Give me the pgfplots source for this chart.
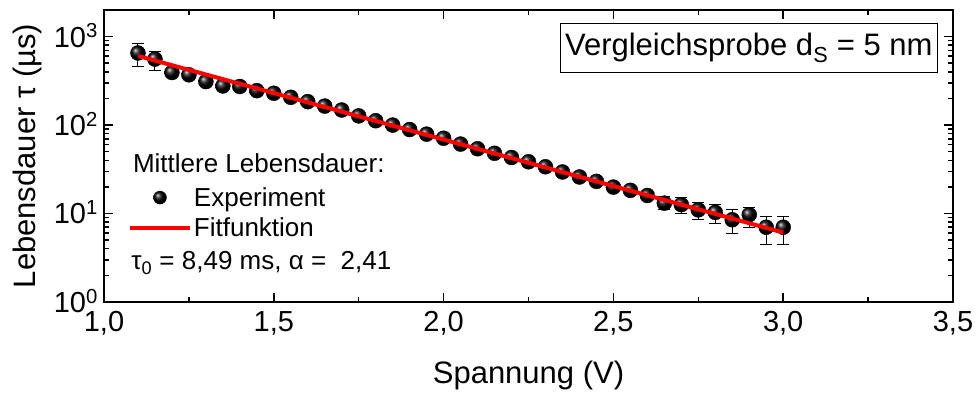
\documentclass[border=0pt]{standalone}
\usepackage{pgfplots}
\pgfplotsset{compat=1.18}
\usepackage{fontspec}
\setmainfont{Liberation Sans}
\begin{document}
\begin{tikzpicture}
\useasboundingbox (-104pt,-91pt) rectangle (874pt,302pt);
\begin{axis}[
  scale only axis, width=849pt, height=292pt,
  clip mode=individual,
  xmin=1.0, xmax=3.5, ymode=log, ymin=1, ymax=2000,
  axis line style={line width=2pt},
  tick style={line width=1.5pt, black},
  major tick length=9pt, minor tick length=5pt,
  tick align=inside,
  xtick={1.0,1.5,2.0,2.5,3.0,3.5},
  xticklabels={{1,0},{1,5},{2,0},{2,5},{3,0},{3,5}},
  minor xtick={1.25,1.75,2.25,2.75,3.25},
  ytick={1,10,100,1000},
  yticklabels={10\textsuperscript{0},10\textsuperscript{1},10\textsuperscript{2},10\textsuperscript{3}},
  xticklabel style={font=\fontsize{29}{32}\selectfont, inner sep=0pt, yshift=-9pt},
  yticklabel style={font=\fontsize{29}{32}\selectfont, anchor=base east, yshift=-10.4pt, inner sep=0pt, xshift=-6pt},
  xlabel={Spannung (V)},
  ylabel={Lebensdauer τ (µs)},
  every axis x label/.style={at={(rel axis cs:0.5,0)}, yshift=-73pt, anchor=center, font=\fontsize{31}{34}\selectfont},
  every axis y label/.style={at={(rel axis cs:0,0.5)}, xshift=-77pt, rotate=90, anchor=center, font=\fontsize{31}{34}\selectfont},
  legend style={draw=none, fill=none, font=\fontsize{26}{30}\selectfont, at={(rel axis cs:0.028,0.40)}, anchor=north west, row sep=6pt, inner xsep=0pt, inner ysep=0pt},
  legend cell align=left,
  legend image code/.code={\draw[mark repeat=2,mark phase=2,#1] plot coordinates {(0pt,0pt)(30pt,0pt)(60pt,0pt)};},
]
% error bars (visible ones)
\addplot[only marks, mark=none, forget plot,
  error bars/.cd, y dir=both, y explicit,
  error bar style={draw=black, line width=1pt},
  error mark options={rotate=90, mark size=6pt, draw=black, line width=1pt}]
coordinates {
(1.10,653) += (0,173) -= (0,193)
(1.15,557) += (0,124) -= (0,146)
(1.20,393) += (0,32) -= (0,30)
(2.60,16.0) += (0,1.3) -= (0,1.2)
(2.65,13.1) += (0,2.5) -= (0,2.1)
(2.70,12.6) += (0,2.5) -= (0,2.5)
(2.75,11.0) += (0,2.4) -= (0,2.45)
(2.80,10.3) += (0,2.3) -= (0,2.66)
(2.85,8.5) += (0,2.5) -= (0,2.53)
(2.90,9.7) += (0,2.1) -= (0,2.7)
(2.95,7.0) += (0,2.25) -= (0,2.56)
(3.00,7.0) += (0,2.25) -= (0,2.56)
};
\addplot[only marks, mark=ball, mark size=7.5pt, mark options={ball color=black}, legend image post style={mark size=6.5pt}]
coordinates {
(1.10,653)(1.15,557)(1.20,393)(1.25,370)(1.30,310)(1.35,277)(1.40,273)
(1.45,245)(1.50,229)(1.55,206)(1.60,184)(1.65,164)(1.70,148)(1.75,127)
(1.80,112)(1.85,100)(1.90,89)(1.95,79)(2.00,71)(2.05,61)(2.10,54)
(2.15,48)(2.20,43)(2.25,38.5)(2.30,33.8)(2.35,29.5)(2.40,25.9)(2.45,23.1)
(2.50,19.9)(2.55,18.3)(2.60,16.0)(2.65,13.1)(2.70,12.6)(2.75,11.0)(2.80,10.3)
(2.85,8.5)(2.90,9.7)(2.95,7.0)(3.00,7.0)
};
\addlegendentry{Experiment}
\addplot[red, line width=4pt, mark=none] coordinates {(1.1,605)(3.0,6.1)};
\addlegendentry{Fitfunktion}
\node[anchor=base west, font=\fontsize{26}{30}\selectfont, inner sep=0pt] at (rel axis cs:0.034,0.445) {Mittlere Lebensdauer:};
\node[anchor=base west, font=\fontsize{26}{30}\selectfont, inner sep=0pt] at (rel axis cs:0.032,0.110) {τ\textsubscript{0} = 8,49 ms, α =~ 2,41};
\node[anchor=north east, draw=black, line width=1pt, inner xsep=5pt, minimum height=49pt, font=\fontsize{31}{34}\selectfont] at (rel axis cs:0.9823,0.9555) {Vergleichsprobe d\textsubscript{S} = 5 nm};
\end{axis}
\end{tikzpicture}
\end{document}
